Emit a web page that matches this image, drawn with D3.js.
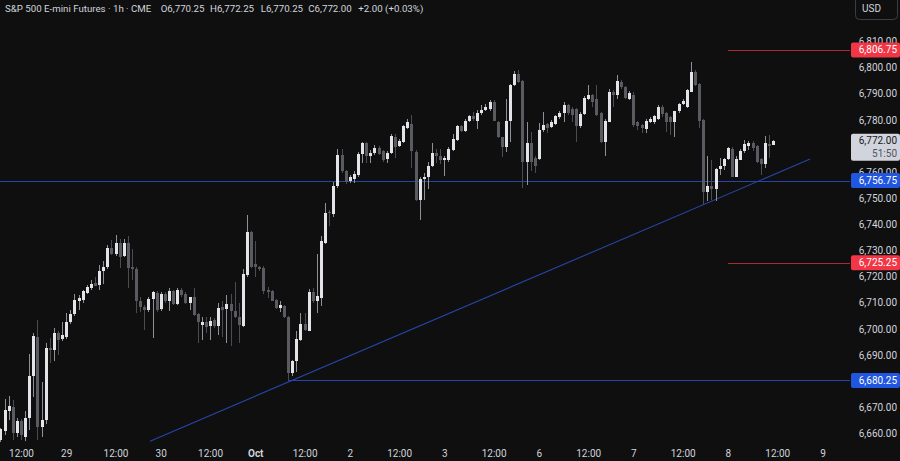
<!DOCTYPE html>
<html><head><meta charset="utf-8">
<script src="https://cdn.jsdelivr.net/npm/d3@7"></script>
<style>
html,body{margin:0;padding:0;background:#0f0f0f;overflow:hidden}
svg{display:block}
</style></head><body>
<svg id="c" width="900" height="461"></svg>
<script>
// ---------------- DATA ----------------
const title = "S&P 500 E-mini Futures · 1h · CME";
const opens = [6657.5,6661.0,6668.5,6670.25,6660.0,6664.75,6658.75,6665.75,6681.75,6697.0,
6662.5,6665.0,6692.75,6692.0,6698.5,6696.0,6697.0,6702.5,6705.5,6710.75,
6711.0,6713.75,6715.5,6717.5,6716.75,6722.0,6723.5,6731.0,6728.5,6733.0,
6727.75,6733.0,6723.5,6723.0,6710.75,6708.5,6707.25,6711.25,6713.75,6707.5,
6713.25,6710.75,6714.5,6709.5,6715.0,6713.5,6710.0,6712.0,6705.5,6701.5,
6702.75,6701.0,6703.25,6701.25,6708.5,6707.5,6709.5,6707.0,6704.5,6701.25,
6720.75,6737.25,6725.0,6723.5,6723.25,6715.0,6714.5,6711.0,6708.0,6708.75,
6704.5,6683.25,6687.5,6695.75,6702.0,6699.25,6714.0,6710.75,6711.75,6733.0,
6744.75,6744.0,6754.5,6766.5,6760.5,6756.75,6757.25,6759.0,6767.0,6771.0,
6766.0,6767.5,6769.25,6768.25,6765.0,6767.25,6773.5,6770.0,6771.5,6776.75,
6778.5,6767.75,6749.25,6757.25,6758.0,6762.25,6767.25,6766.0,6764.5,6764.5,
6768.5,6772.25,6777.5,6775.75,6779.5,6781.5,6779.75,6782.75,6783.75,6784.0,
6787.0,6779.25,6773.25,6769.75,6779.5,6793.5,6797.5,6795.0,6764.0,6771.0,
6765.25,6765.0,6776.0,6778.25,6777.25,6778.5,6781.25,6782.5,6785.75,6784.25,
6784.0,6777.5,6782.25,6788.0,6789.5,6788.0,6782.5,6771.5,6779.25,6790.75,
6789.5,6794.5,6792.75,6788.0,6789.5,6779.25,6778.0,6776.5,6779.25,6779.0,
6780.5,6785.0,6782.75,6781.0,6779.0,6783.25,6786.25,6784.75,6790.75,6798.5,
6793.75,6780.0,6752.5,6754.5,6753.5,6761.0,6762.25,6765.0,6769.0,6758.25,
6764.75,6768.0,6770.0,6771.0,6770.0,6765.0,6763.0,6770.75,6770.25];
const highs = [6662.0,6673.0,6674.25,6672.75,6666.0,6665.5,6668.5,6690.25,6698.25,6703.5,
6679.75,6694.5,6696.5,6700.5,6699.0,6702.75,6706.0,6707.25,6713.25,6713.0,
6715.0,6716.75,6718.75,6719.75,6724.5,6726.0,6732.0,6734.0,6736.0,6734.5,
6734.5,6735.5,6730.75,6723.5,6712.25,6709.0,6712.0,6714.5,6714.5,6714.25,
6714.0,6715.5,6715.0,6715.5,6715.5,6714.0,6712.25,6715.5,6706.0,6704.5,
6704.5,6704.5,6704.0,6709.75,6710.5,6713.0,6713.5,6718.0,6709.75,6722.75,
6743.5,6737.5,6733.5,6724.0,6724.0,6716.0,6715.0,6711.5,6710.5,6709.0,
6704.75,6688.0,6699.0,6706.0,6706.0,6715.25,6715.5,6728.5,6735.5,6748.0,
6745.5,6756.25,6768.75,6768.75,6760.75,6759.0,6760.25,6767.75,6771.5,6771.5,
6768.5,6770.5,6770.0,6768.5,6768.25,6774.5,6774.5,6772.5,6778.0,6780.5,
6782.0,6768.5,6758.0,6759.5,6764.0,6771.0,6769.0,6768.75,6766.0,6769.5,
6774.5,6778.0,6778.0,6780.25,6782.0,6783.0,6783.75,6785.5,6786.0,6787.5,
6787.5,6779.5,6773.5,6788.0,6793.75,6798.75,6799.25,6795.25,6779.25,6775.5,
6766.0,6778.75,6783.0,6778.75,6780.0,6782.0,6783.5,6787.0,6786.25,6785.0,
6784.5,6783.0,6789.0,6793.25,6790.0,6793.25,6783.0,6780.5,6791.75,6791.5,
6797.25,6795.25,6793.0,6791.0,6790.5,6779.5,6778.5,6780.5,6781.25,6782.0,
6785.75,6785.75,6783.0,6781.5,6783.5,6786.5,6788.0,6791.75,6802.25,6799.0,
6794.0,6780.25,6766.0,6764.5,6761.5,6765.25,6765.5,6769.5,6769.5,6766.0,
6768.75,6772.25,6772.0,6772.0,6770.25,6765.5,6773.75,6774.25,6772.25];
const lows = [6656.5,6659.5,6665.0,6657.5,6658.5,6657.5,6657.0,6661.25,6674.0,6657.5,
6658.75,6663.75,6686.75,6687.5,6690.0,6695.5,6696.25,6702.0,6705.0,6707.25,
6709.75,6713.5,6715.0,6716.5,6715.0,6717.25,6723.0,6728.25,6728.0,6723.25,
6727.5,6715.5,6718.75,6706.0,6706.25,6699.5,6706.5,6696.5,6706.5,6707.0,
6710.0,6707.0,6709.0,6709.0,6712.0,6709.5,6707.25,6705.0,6694.5,6695.75,
6698.25,6695.75,6700.5,6697.5,6697.0,6694.5,6693.25,6704.0,6694.5,6700.75,
6720.0,6723.25,6720.0,6722.0,6713.5,6711.75,6710.5,6707.5,6706.5,6704.0,
6680.25,6682.0,6683.5,6695.5,6699.0,6699.0,6710.0,6706.0,6708.75,6732.5,
6739.5,6743.0,6754.0,6759.5,6755.5,6755.75,6756.0,6758.25,6763.5,6763.5,
6763.5,6766.5,6766.5,6764.0,6763.5,6767.0,6765.25,6769.5,6771.0,6776.5,
6761.5,6749.0,6741.75,6749.25,6753.5,6762.0,6763.5,6763.0,6758.5,6764.0,
6768.0,6772.0,6775.5,6775.5,6779.0,6779.5,6776.5,6782.0,6783.5,6783.5,
6779.5,6773.0,6765.75,6767.75,6771.5,6793.0,6794.25,6753.75,6755.0,6760.25,
6759.5,6764.5,6775.5,6775.0,6776.75,6778.0,6780.5,6779.25,6782.0,6779.25,
6771.5,6777.0,6781.75,6787.75,6785.0,6781.5,6771.0,6766.0,6779.0,6785.0,
6788.0,6792.0,6788.0,6787.75,6777.25,6776.0,6775.0,6775.0,6778.75,6778.5,
6780.0,6781.25,6775.5,6774.25,6773.5,6782.75,6785.75,6784.5,6790.5,6793.0,
6776.75,6747.5,6748.75,6749.25,6748.75,6759.0,6760.75,6764.5,6758.0,6758.0,
6764.5,6767.5,6768.5,6768.25,6763.5,6759.0,6761.75,6765.25,6770.25];
const closes = [6661.5,6669.0,6670.5,6660.0,6664.75,6659.25,6666.0,6681.75,6697.25,6662.5,
6665.0,6692.5,6692.0,6698.25,6695.75,6697.5,6702.75,6705.5,6711.0,6711.75,
6714.5,6716.0,6717.25,6716.5,6722.0,6723.75,6731.0,6728.5,6733.0,6727.5,
6733.0,6723.25,6722.75,6710.75,6708.25,6707.25,6711.25,6714.0,6707.25,6713.5,
6710.75,6714.5,6709.5,6715.0,6713.0,6710.0,6712.0,6705.25,6702.75,6702.75,
6700.75,6703.0,6701.25,6708.0,6707.25,6709.5,6707.0,6704.5,6701.5,6721.0,
6737.25,6723.5,6723.5,6722.75,6714.5,6714.25,6710.75,6708.0,6709.0,6704.5,
6683.25,6687.5,6696.0,6702.0,6699.5,6714.0,6710.5,6712.5,6733.5,6744.5,
6744.25,6754.5,6766.5,6760.25,6756.25,6758.0,6759.25,6767.0,6771.0,6766.0,
6767.5,6769.25,6767.0,6764.5,6767.5,6773.75,6769.5,6772.0,6777.5,6779.0,
6768.25,6749.25,6757.5,6758.25,6762.25,6767.5,6766.0,6764.5,6765.25,6768.75,
6772.75,6777.5,6775.75,6779.75,6781.5,6780.25,6782.75,6783.75,6785.0,6787.0,
6779.75,6773.25,6769.75,6779.5,6793.5,6797.5,6794.5,6764.0,6771.0,6764.0,
6762.25,6776.0,6778.0,6777.0,6779.25,6781.5,6782.75,6785.75,6782.5,6782.0,
6777.5,6782.25,6788.25,6789.5,6787.0,6782.0,6771.5,6779.75,6790.75,6789.5,
6795.0,6792.75,6788.25,6790.25,6778.0,6777.5,6776.75,6779.75,6780.5,6781.5,
6785.0,6782.25,6779.25,6779.0,6783.25,6786.25,6787.25,6791.25,6798.5,6793.25,
6779.75,6752.5,6754.5,6753.5,6761.0,6762.25,6765.0,6769.25,6758.25,6765.0,
6768.25,6770.75,6771.0,6769.25,6763.75,6763.0,6771.0,6770.0,6772.0];

const timeTickBars   = [5,16,28,39,51,62,74,85,97,108,120,131,143,154,166,177,189,200];
const timeTickLabels = ["12:00","29","12:00","30","12:00","Oct","12:00","2","12:00","3","12:00","6","12:00","7","12:00","8","12:00","9"];
const priceTicks = [6660,6670,6680,6690,6700,6710,6720,6730,6740,6750,6760,6770,6780,6790,6800,6810];

const levelPrices = [6806.75, 6756.75, 6725.25, 6680.25];
const levelStartBar = [177, null, 177, 70];
const levelKinds = ["red", "blue", "red", "blue"];

const trendBars = [36.4, 197];
const trendPrices = [6657.0, 6765.0];

const countdown = "51:50";
const currency = "USD";

// ---------------- DRAW ----------------
const W = 900, H = 461, plotRight = 850, plotBottom = 445;
const FONT = "Roboto, 'Noto Sans', sans-serif";
const x = d3.scaleLinear().domain([0, 200]).range([0.44, 822.44]);
const y = d3.scaleLinear().domain([6660, 6810]).range([433.3, 41.5]);
const svg = d3.select('#c').style('font-family', FONT);
svg.append('rect').attr('width', W).attr('height', H).attr('fill', '#0f0f0f');
svg.append('defs').append('clipPath').attr('id', 'plot')
  .append('rect').attr('width', plotRight).attr('height', plotBottom);
const plot = svg.append('g').attr('clip-path', 'url(#plot)');

const lineCol = {red: '#a82b35', blue: '#2546a8'};
const boxCol = {red: '#f23645', blue: '#2157e0'};
const levels = levelPrices.map((p, i) => ({p, s: levelStartBar[i], k: levelKinds[i]}));

plot.selectAll('line.level').data(levels).join('line').attr('class', 'level')
  .attr('x1', d => d.s == null ? 0 : x(d.s)).attr('x2', plotRight)
  .attr('y1', d => Math.round(y(d.p)) + 0.5).attr('y2', d => Math.round(y(d.p)) + 0.5)
  .attr('stroke', d => lineCol[d.k]).attr('stroke-width', 1);

plot.append('line')
  .attr('x1', x(trendBars[0])).attr('y1', y(trendPrices[0]))
  .attr('x2', x(trendBars[1])).attr('y2', y(trendPrices[1]))
  .attr('stroke', '#2546a8').attr('stroke-width', 1.1);

const bars = opens.map((o, i) => ({i, o, h: highs[i], l: lows[i], c: closes[i]}));
const up = d => d.c >= d.o;
const cg = plot.append('g').attr('shape-rendering', 'crispEdges');
cg.selectAll('line.wick').data(bars).join('line').attr('class', 'wick')
  .attr('x1', d => Math.round(x(d.i)) + 0.5).attr('x2', d => Math.round(x(d.i)) + 0.5)
  .attr('y1', d => y(d.h)).attr('y2', d => y(d.l))
  .attr('stroke', d => up(d) ? '#8e9096' : '#4a4c52').attr('stroke-width', 1);
cg.selectAll('rect.body').data(bars).join('rect').attr('class', 'body')
  .attr('x', d => Math.round(x(d.i)) - 1).attr('width', 3)
  .attr('y', d => y(Math.max(d.o, d.c)))
  .attr('height', d => Math.max(1, Math.abs(y(d.o) - y(d.c))))
  .attr('fill', d => up(d) ? '#e3e4e7' : '#595b61');

// geometry of axis markers
const levels_y = levels.map(d => y(d.p));
const last = bars[bars.length - 1];
const yl = y(last.c);
const hidden = v => {
  const yy = y(v);
  if (levels_y.some(m => Math.abs(m - yy) < 5)) return true;
  return yy > yl - 7 && yy < yl + 20;
};

// price axis
const ya = svg.append('g').attr('transform', `translate(${plotRight},0)`)
  .call(d3.axisRight(y).tickValues(priceTicks).tickFormat(d3.format(',.2f')).tickSize(0));
ya.attr('font-family', FONT).attr('font-size', 10);
ya.select('.domain').remove();
ya.selectAll('.tick').filter(d => hidden(d)).remove();
ya.selectAll('text').attr('x', 47).attr('text-anchor', 'end').attr('fill', '#d1d4dc');

// time axis
const xa = svg.append('g').attr('transform', `translate(0,${plotBottom})`)
  .call(d3.axisBottom(x).tickValues(timeTickBars).tickFormat((d, i) => timeTickLabels[i]).tickSize(0));
xa.attr('font-family', FONT).attr('font-size', 10);
xa.select('.domain').remove();
xa.selectAll('text').attr('y', 4.5).attr('fill', '#d1d4dc')
  .attr('font-weight', (d, i) => /^[A-Za-z]/.test(timeTickLabels[i]) ? 'bold' : null);

// level markers on axis
const fmt = d3.format(',.2f');
const mk = svg.append('g').attr('font-family', FONT).attr('font-size', 10);
levels.forEach(d => {
  const yy = y(d.p);
  mk.append('rect').attr('x', 851).attr('y', yy - 7.5).attr('width', 49).attr('height', 15)
    .attr('rx', 2).attr('fill', boxCol[d.k]);
  mk.append('text').attr('x', 897).attr('y', yy).attr('dy', '0.35em')
    .attr('text-anchor', 'end').attr('fill', '#ffffff').text(fmt(d.p));
});

// current price marker
mk.append('rect').attr('x', 851).attr('y', yl - 7).attr('width', 49).attr('height', 27)
  .attr('rx', 2).attr('fill', '#d1d4dc');
mk.append('text').attr('x', 897).attr('y', yl).attr('dy', '0.35em').attr('text-anchor', 'end')
  .attr('fill', '#131722').text(fmt(last.c));
mk.append('text').attr('x', 897).attr('y', yl + 13).attr('dy', '0.35em').attr('text-anchor', 'end')
  .attr('fill', '#50535e').text(countdown);

// currency button
svg.append('rect').attr('x', 855.5).attr('y', -5.5).attr('width', 42).attr('height', 25)
  .attr('rx', 4).attr('fill', 'none').attr('stroke', '#3a3d45');
svg.append('text').attr('x', 862).attr('y', 12).attr('font-family', FONT).attr('font-size', 10)
  .attr('fill', '#d1d4dc').text(currency);

// header legend
const prev = bars[bars.length - 2];
const chg = last.c - prev.c;
const hdr = svg.append('text').attr('y', 12).attr('font-family', FONT).attr('font-size', 9.7)
  .attr('fill', '#d1d4dc');
const parts = [
  [5, title],
  [160.7, 'O' + fmt(last.o)],
  [210, 'H' + fmt(last.h)],
  [260.7, 'L' + fmt(last.l)],
  [308.3, 'C' + fmt(last.c)],
  [358.3, d3.format('+.2f')(chg) + ' (' + d3.format('+.2%')(chg / prev.c) + ')']
];
parts.forEach(p => hdr.append('tspan').attr('x', p[0]).text(p[1]));
</script>
</body></html>
